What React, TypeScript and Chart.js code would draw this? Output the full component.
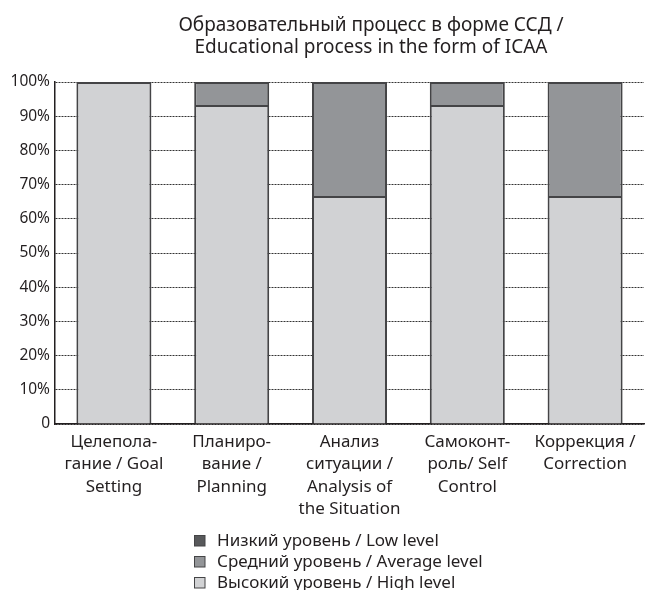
import React, { useEffect, useRef } from "react";
import { Chart, registerables } from "chart.js";

Chart.register(...registerables);

const categories: string[][] = [
  ["Целепола-", "гание / Goal", "Setting"],
  ["Планиро-", "вание /", "Planning"],
  ["Анализ", "ситуации /", "Analysis of", "the Situation"],
  ["Самоконт-", "роль/ Self", "Control"],
  ["Коррекция /", "Correction"],
];
const highLevel = [100, 93.3, 66.7, 93.3, 66.7];
const averageLevel = [0, 6.7, 33.3, 6.7, 33.3];
const lowLevel = [0, 0, 0, 0, 0];
const seriesNames = [
  "Низкий уровень / Low level",
  "Средний уровень / Average level",
  "Высокий уровень / High level",
];
const titleLines = ["Образовательный процесс в форме ССД /", "Educational process in the form of ICAA"];
const yTicks = [0, 10, 20, 30, 40, 50, 60, 70, 80, 90, 100];

const FONT = "'Noto Sans', sans-serif";
const C_LOW = "#58595b";
const C_AVG = "#939598";
const C_HIGH = "#d1d2d4";
const C_BORDER = "#444446";
const C_TEXT = "#231f20";

export default function App() {
  const ref = useRef<HTMLCanvasElement>(null);
  useEffect(() => {
    if (!ref.current) return;
    const overlay = {
      id: "overlay",
      afterDraw(chart: any) {
        const ctx = chart.ctx;
        ctx.save();
        ctx.fillStyle = C_TEXT;
        ctx.textAlign = "center";
        ctx.textBaseline = "alphabetic";
        ctx.font = `19px ${FONT}`;
        ctx.fillText(titleLines[0], 371, 31);
        ctx.fillText(titleLines[1], 371, 53);
        const colors = [C_LOW, C_AVG, C_HIGH];
        ctx.font = `17px ${FONT}`;
        ctx.textAlign = "left";
        seriesNames.forEach((name, i) => {
          const base = 546 + i * 21;
          ctx.fillStyle = colors[i];
          ctx.fillRect(194.5, base - 10.5, 10.5, 10.5);
          ctx.strokeStyle = C_BORDER;
          ctx.lineWidth = 1;
          ctx.strokeRect(194.5, base - 10.5, 10.5, 10.5);
          ctx.fillStyle = C_TEXT;
          ctx.fillText(name, 217, base);
        });
        ctx.restore();
      },
    };
    const chart = new Chart(ref.current, {
      type: "bar",
      data: {
        labels: categories as any,
        datasets: [
          { label: seriesNames[2], data: highLevel, backgroundColor: C_HIGH },
          { label: seriesNames[1], data: averageLevel, backgroundColor: C_AVG },
          { label: seriesNames[0], data: lowLevel, backgroundColor: C_LOW },
        ].map((d) => ({
          ...d,
          borderColor: C_BORDER,
          borderWidth: (c: any) => (c.raw ? 2 : 0),
          borderSkipped: "start",
          categoryPercentage: 1,
          barPercentage: 0.637,
        })),
      },
      options: {
        animation: false,
        responsive: false,
        maintainAspectRatio: false,
        layout: { padding: { top: 82, right: 3, left: 0, bottom: 0 } },
        plugins: { legend: { display: false }, title: { display: false }, tooltip: { enabled: false } },
        scales: {
          x: {
            stacked: true,
            grid: { display: false, drawTicks: false },
            border: { display: true, color: C_TEXT, width: 1.5 },
            ticks: {
              color: C_TEXT,
              font: { family: FONT, size: 17, lineHeight: 1.31 },
              padding: 7,
              maxRotation: 0,
              autoSkip: false,
            },
            afterFit: (s: any) => {
              s.height = 166;
            },
          },
          y: {
            stacked: true,
            min: 0,
            max: 100,
            afterBuildTicks: (s: any) => {
              s.ticks = yTicks.map((v) => ({ value: v }));
            },
            grid: {
              color: "#333",
              lineWidth: 1,
              drawTicks: false,
            },
            border: { display: true, color: C_TEXT, width: 1.5, dash: [2, 1] },
            ticks: {
              color: C_TEXT,
              font: { family: FONT, size: 15.5 },
              padding: 5,
              callback: (v: any) => (v === 0 ? "0" : v + "%"),
            },
            afterFit: (s: any) => {
              s.width = 55;
            },
          },
        },
      },
      plugins: [overlay],
    } as any);
    return () => chart.destroy();
  }, []);
  return (
    <div style={{ position: "absolute", left: 0, top: 0, width: 647, height: 590, background: "#fff" }}>
      <canvas ref={ref} width={647} height={590} style={{ width: 647, height: 590, display: "block" }} />
    </div>
  );
}
